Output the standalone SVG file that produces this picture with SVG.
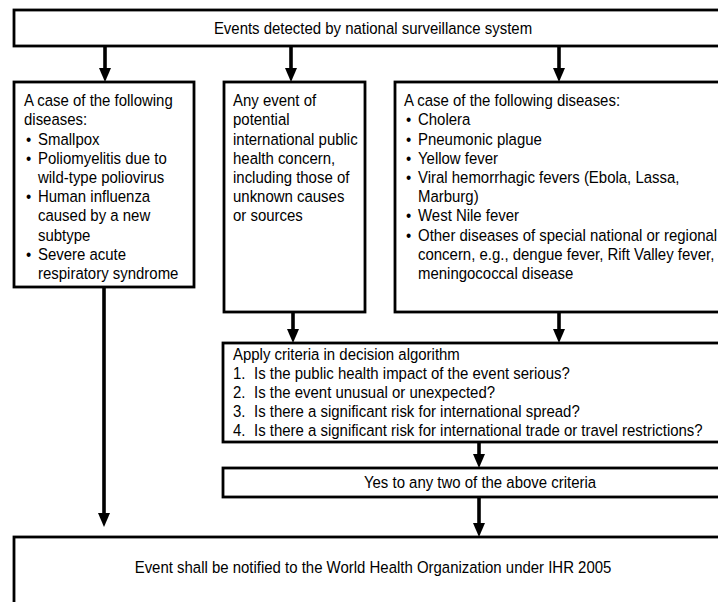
<svg xmlns="http://www.w3.org/2000/svg" width="718" height="602" viewBox="0 0 718 602">
<style>
.box{fill:#fff;stroke:#000;stroke-width:2.8}
.t{font-family:"Liberation Sans",Arial,sans-serif;font-size:17px;fill:#000}
.c{text-anchor:middle}
.conn{stroke:#000;stroke-width:3.6;fill:none}
</style>
<defs>
<marker id="ah" viewBox="0 0 14 12" markerUnits="userSpaceOnUse" markerWidth="14" markerHeight="12" refX="4" refY="6" orient="auto">
<path d="M0,0 L14,6 L0,12 z" fill="#000"/>
</marker>
</defs>
<rect width="718" height="602" fill="#fff"/>
<g id="connectors">
<line class="conn" x1="105" y1="46" x2="105" y2="72" marker-end="url(#ah)"/>
<line class="conn" x1="291" y1="46" x2="291" y2="72" marker-end="url(#ah)"/>
<line class="conn" x1="559" y1="46" x2="559" y2="72" marker-end="url(#ah)"/>
<line class="conn" x1="104" y1="287" x2="104" y2="517" marker-end="url(#ah)"/>
<line class="conn" x1="293" y1="312" x2="293" y2="333" marker-end="url(#ah)"/>
<line class="conn" x1="559" y1="312" x2="559" y2="333" marker-end="url(#ah)"/>
<line class="conn" x1="479" y1="442" x2="479" y2="458" marker-end="url(#ah)"/>
<line class="conn" x1="479" y1="497" x2="479" y2="527" marker-end="url(#ah)"/>
</g>
<g id="top">
<rect class="box" x="14" y="10" width="718" height="36"/>
<text class="t c" transform="translate(373,34) scale(0.88,1)">Events detected by national surveillance system</text>
</g>
<g id="box1">
<rect class="box" x="14" y="82" width="180" height="205"/>
<text class="t" transform="translate(24,106) scale(0.88,1)">A case of the following</text>
<text class="t" transform="translate(24,125) scale(0.88,1)">diseases:</text>
<text class="t" transform="translate(26,144.5) scale(0.88,1)">•</text>
<text class="t" transform="translate(38,144.5) scale(0.88,1)">Smallpox</text>
<text class="t" transform="translate(26,163.5) scale(0.88,1)">•</text>
<text class="t" transform="translate(38,163.5) scale(0.88,1)">Poliomyelitis due to</text>
<text class="t" transform="translate(38,183) scale(0.88,1)">wild-type poliovirus</text>
<text class="t" transform="translate(26,202) scale(0.88,1)">•</text>
<text class="t" transform="translate(38,202) scale(0.88,1)">Human influenza</text>
<text class="t" transform="translate(38,221) scale(0.88,1)">caused by a new</text>
<text class="t" transform="translate(38,240.5) scale(0.88,1)">subtype</text>
<text class="t" transform="translate(26,260) scale(0.88,1)">•</text>
<text class="t" transform="translate(38,260) scale(0.88,1)">Severe acute</text>
<text class="t" transform="translate(38,279) scale(0.88,1)">respiratory syndrome</text>
</g>
<g id="box2">
<rect class="box" x="224" y="82" width="141" height="230"/>
<text class="t" transform="translate(233,106) scale(0.88,1)">Any event of</text>
<text class="t" transform="translate(233,125) scale(0.88,1)">potential</text>
<text class="t" transform="translate(233,144.5) scale(0.88,1)">international public</text>
<text class="t" transform="translate(233,163.5) scale(0.88,1)">health concern,</text>
<text class="t" transform="translate(233,183) scale(0.88,1)">including those of</text>
<text class="t" transform="translate(233,202) scale(0.88,1)">unknown causes</text>
<text class="t" transform="translate(233,221) scale(0.88,1)">or sources</text>
</g>
<g id="box3">
<rect class="box" x="395" y="82" width="340" height="230"/>
<text class="t" transform="translate(404,106) scale(0.88,1)">A case of the following diseases:</text>
<text class="t" transform="translate(406,125) scale(0.88,1)">•</text>
<text class="t" transform="translate(418,125) scale(0.88,1)">Cholera</text>
<text class="t" transform="translate(406,144.5) scale(0.88,1)">•</text>
<text class="t" transform="translate(418,144.5) scale(0.88,1)">Pneumonic plague</text>
<text class="t" transform="translate(406,163.5) scale(0.88,1)">•</text>
<text class="t" transform="translate(418,163.5) scale(0.88,1)">Yellow fever</text>
<text class="t" transform="translate(406,183) scale(0.88,1)">•</text>
<text class="t" transform="translate(418,183) scale(0.88,1)">Viral hemorrhagic fevers (Ebola, Lassa,</text>
<text class="t" transform="translate(418,202) scale(0.88,1)">Marburg)</text>
<text class="t" transform="translate(406,221) scale(0.88,1)">•</text>
<text class="t" transform="translate(418,221) scale(0.88,1)">West Nile fever</text>
<text class="t" transform="translate(406,240.5) scale(0.88,1)">•</text>
<text class="t" transform="translate(418,240.5) scale(0.88,1)">Other diseases of special national or regional</text>
<text class="t" transform="translate(418,260) scale(0.88,1)">concern, e.g., dengue fever, Rift Valley fever,</text>
<text class="t" transform="translate(418,279) scale(0.88,1)">meningococcal disease</text>
</g>
<g id="criteria">
<rect class="box" x="223" y="343" width="514" height="99"/>
<text class="t" transform="translate(233,360) scale(0.88,1)">Apply criteria in decision algorithm</text>
<text class="t" transform="translate(233,379) scale(0.88,1)">1.</text>
<text class="t" transform="translate(254,379) scale(0.88,1)">Is the public health impact of the event serious?</text>
<text class="t" transform="translate(233,398) scale(0.88,1)">2.</text>
<text class="t" transform="translate(254,398) scale(0.88,1)">Is the event unusual or unexpected?</text>
<text class="t" transform="translate(233,417) scale(0.88,1)">3.</text>
<text class="t" transform="translate(254,417) scale(0.88,1)">Is there a significant risk for international spread?</text>
<text class="t" transform="translate(233,436) scale(0.88,1)">4.</text>
<text class="t" transform="translate(254,436) scale(0.88,1)">Is there a significant risk for international trade or travel restrictions?</text>
</g>
<g id="yes">
<rect class="box" x="223" y="468" width="514" height="29"/>
<text class="t c" transform="translate(480,488) scale(0.88,1)">Yes to any two of the above criteria</text>
</g>
<g id="notify">
<rect class="box" x="14" y="537" width="720" height="80"/>
<text class="t c" transform="translate(373,573) scale(0.88,1)">Event shall be notified to the World Health Organization under IHR 2005</text>
</g>
</svg>
